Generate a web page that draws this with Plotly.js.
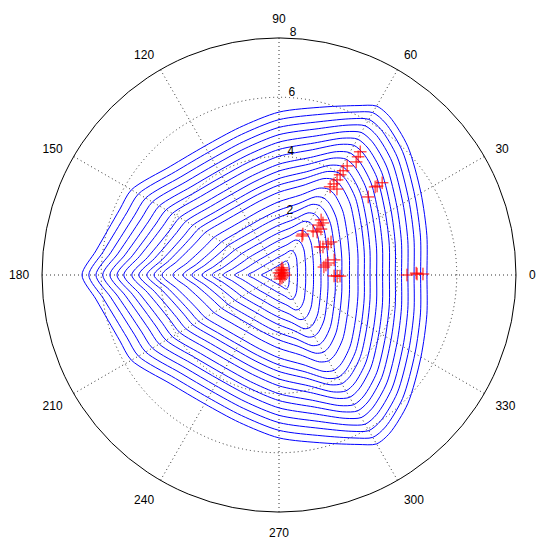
<!DOCTYPE html>
<html>
<head>
<meta charset="utf-8">
<script src="https://cdn.plot.ly/plotly-3.0.1.min.js"></script>
<style>html,body{margin:0;padding:0;background:#fff;}#chart{width:550px;height:549px;}</style>
</head>
<body>
<div id="chart"></div>
<script>
// ---- data ----
// angular positions (deg) at which contour shapes were read (upper half; lower half mirrors)
const profileTheta = [0, 15, 30, 45, 55, 60, 65, 75, 90, 105, 120, 135, 150, 157.5, 165, 172.5, 180];
// outermost contour radius relative to its radius at 180 deg
const outerShape = [0.751, 0.777, 0.832, 0.924, 0.980, 0.990, 0.949, 0.883, 0.827, 0.775, 0.755, 0.780, 0.865, 0.874, 0.897, 0.9375, 1.0];
// innermost contour radius relative to its radius at 180 deg
const innerShape = [0.58, 0.60, 0.66, 0.78, 0.86, 0.88, 0.86, 0.68, 0.56, 0.50, 0.48, 0.50, 0.556, 0.611, 0.69, 0.81, 1.0];
// radius of each contour on the 180 deg ray
const leftRadii = [6.65, 6.42, 6.18, 5.95, 5.71, 5.47, 5.24, 4.97, 4.73, 4.46, 4.22, 3.95, 3.58, 3.24, 2.94, 2.60, 2.26, 1.89, 1.49, 1.05, 0.60];

// red "+" samples (r, theta deg)
const ptsR = [4.98, 4.80, 4.62, 4.34, 4.13, 3.96, 3.76, 3.59, 3.44, 3.50, 4.67, 4.47, 4.40, 4.00,
  2.34, 2.30, 2.16, 2.10, 1.94, 1.88, 1.60, 1.53, 2.08, 1.96, 1.76, 1.68, 1.93, 1.70, 1.62, 1.54,
  1.86, 1.96, 2.06, 4.32, 4.63, 4.66, 4.86,
  0.22, 0.14, 0.08, 0.05, 0.14, 0.18, 0.14, 0.18, 0.14, 0.20, 0.26, 0.07];
const ptsTheta = [56.6, 56.2, 55.7, 58.0, 58.4, 58.6, 58.6, 58.9, 59.9, 56.0, 41.8, 42.2, 42.5, 41.2,
  52.6, 49.8, 51.3, 47.6, 48.5, 52.3, 59.7, 59.5, 32.4, 32.3, 32.5, 34.3, 15.3, 13.8, 12.0, 10.1,
  -1, -1, -1, 0, 0.8, 0.4, 0.4,
  51, 45, 27, -45, -45, 22, -14, 68, -76, 0, 67, 90];

const angTickVals = [0, 30, 60, 90, 120, 150, 180, 210, 240, 270, 300, 330];
const angTickText = ['0', '30', '60', '90', '120', '150', '180', '210', '240', '270', '300', '330'];
const radTickVals = [2, 4, 6, 8];
const radTickText = ['2', '4', '6', '8'];

// ---- build traces ----
const fullTheta = profileTheta.concat(profileTheta.slice(0, -1).reverse().map(t => 360 - t));
const idx = profileTheta.map((_, i) => i).concat(profileTheta.slice(0, -1).map((_, i) => i).reverse());
const Lmax = Math.max(...leftRadii), Lmin = Math.min(...leftRadii);
const traces = [];
leftRadii.forEach(L => {
  const t = (L - Lmin) / (Lmax - Lmin);
  const r = idx.map(i => L * (innerShape[i] + t * (outerShape[i] - innerShape[i])));
  traces.push({
    type: 'scatterpolar', mode: 'lines', r: r, theta: fullTheta,
    line: {color: '#0000ff', width: 1, shape: 'spline', smoothing: 0.8},
    hoverinfo: 'skip', showlegend: false
  });
});
traces.push({
  type: 'scatterpolar', mode: 'markers', r: ptsR, theta: ptsTheta,
  marker: {symbol: 'cross-thin', size: 9, color: '#ff0000', line: {color: '#ff0000', width: 1}},
  showlegend: false
});

const layout = {
  width: 550, height: 549,
  paper_bgcolor: '#ffffff',
  margin: {l: 42, r: 34, t: 38, b: 37},
  font: {family: 'Liberation Sans, Arial, sans-serif', size: 12, color: '#000'},
  showlegend: false,
  polar: {
    bgcolor: '#ffffff',
    domain: {x: [0, 1], y: [0, 1]},
    angularaxis: {
      rotation: 0, direction: 'counterclockwise',
      tickmode: 'array', tickvals: angTickVals, ticktext: angTickText,
      showline: true, linecolor: '#000', linewidth: 1,
      showgrid: true, gridcolor: '#333', griddash: '1px,3px', gridwidth: 1,
      ticks: 'outside', ticklen: 10, tickcolor: 'rgba(0,0,0,0)',
      tickfont: {size: 12, color: '#000'}
    },
    radialaxis: {
      range: [0, 8], tickmode: 'array', tickvals: radTickVals,
      ticktext: radTickText.map(s => s + '<br> '),
      angle: 89, side: 'clockwise', showline: false, ticks: '',
      showgrid: true, gridcolor: '#333', griddash: '1px,3px', gridwidth: 1,
      tickfont: {size: 12, color: '#000'}, tickangle: 89
    }
  }
};
Plotly.newPlot('chart', traces, layout, {displayModeBar: false, staticPlot: true});
</script>
</body>
</html>
